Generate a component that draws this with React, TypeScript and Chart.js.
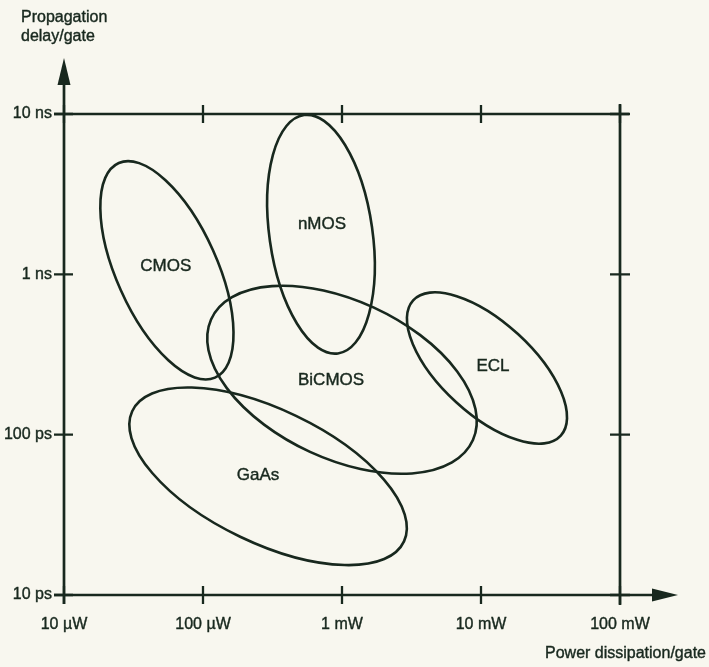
import { useEffect, useRef } from "react";
import { Chart, registerables } from "chart.js";

Chart.register(...registerables);

// Power dissipation per gate, in µW
const powerTicks = [10, 100, 1000, 10000, 100000];
const powerTickLabels = ["10 µW", "100 µW", "1 mW", "10 mW", "100 mW"];
// Propagation delay per gate, in ps
const delayTicks = [10, 100, 1000, 10000];
const delayTickLabels = ["10 ps", "100 ps", "1 ns", "10 ns"];

const xTitle = "Power dissipation/gate";
const yTitle = ["Propagation", "delay/gate"];

// Technology regions (ellipses in log–log space)
const technologies = ["CMOS", "nMOS", "BiCMOS", "ECL", "GaAs"];
const centerPower = [55, 706, 1000, 11040, 294];
const centerDelay = [1060, 1778, 220, 260.5, 55];
// end point of first half-axis
const axis1Power = [122, 935, 8750, 37500, 2793];
const axis1Delay = [227, 321, 92.5, 98.6, 21.6];
// end point of second half-axis
const axis2Power = [118, 1644, 1698, 18450, 467];
const axis2Delay = [1413, 1967, 620, 424, 131];
// label anchors
const labelPower = [54, 718, 834, 12190, 249];
const labelDelay = [1122, 2054, 217, 266, 55.5];

const INK = "#18281e";
const BG = "#f8f7ef";
const FONT = "'Liberation Sans', Arial, Helvetica, sans-serif";

const diagramPlugin = {
  id: "diagram",
  afterDraw(chart: any) {
    const { ctx, chartArea, scales } = chart;
    const xs = scales.x;
    const ys = scales.y;
    const L = chartArea.left;
    const R = chartArea.right;
    const T = chartArea.top;
    const B = chartArea.bottom;
    ctx.save();
    ctx.strokeStyle = INK;
    ctx.fillStyle = INK;
    ctx.lineCap = "butt";

    // ellipses
    ctx.lineWidth = 2.6;
    for (let i = 0; i < technologies.length; i++) {
      const cx = xs.getPixelForValue(centerPower[i]);
      const cy = ys.getPixelForValue(centerDelay[i]);
      const ux = xs.getPixelForValue(axis1Power[i]) - cx;
      const uy = ys.getPixelForValue(axis1Delay[i]) - cy;
      const vx = xs.getPixelForValue(axis2Power[i]) - cx;
      const vy = ys.getPixelForValue(axis2Delay[i]) - cy;
      ctx.save();
      ctx.beginPath();
      ctx.transform(ux, uy, vx, vy, cx, cy);
      ctx.arc(0, 0, 1, 0, Math.PI * 2);
      ctx.closePath();
      ctx.restore();
      ctx.stroke();
    }

    // labels
    ctx.font = `17px ${FONT}`;
    ctx.textAlign = "center";
    ctx.textBaseline = "middle";
    ctx.lineWidth = 0.4;
    for (let i = 0; i < technologies.length; i++) {
      const px = xs.getPixelForValue(labelPower[i]);
      const py = ys.getPixelForValue(labelDelay[i]);
      ctx.fillText(technologies[i], px, py);
      ctx.strokeText(technologies[i], px, py);
    }

    // axes and frame
    ctx.lineWidth = 2.7;
    ctx.beginPath();
    ctx.moveTo(L, 80);
    ctx.lineTo(L, B + 9);
    ctx.moveTo(L - 10, B);
    ctx.lineTo(655, B);
    ctx.moveTo(L - 10, T);
    ctx.lineTo(R + 9, T);
    ctx.moveTo(R, T - 10);
    ctx.lineTo(R, B + 10);
    ctx.stroke();

    ctx.lineWidth = 2.3;
    ctx.beginPath();
    powerTicks.forEach((v) => {
      const px = xs.getPixelForValue(v);
      ctx.moveTo(px, B - 9);
      ctx.lineTo(px, B + 9);
      ctx.moveTo(px, T - 9);
      ctx.lineTo(px, T + 9);
    });
    delayTicks.forEach((v) => {
      const py = ys.getPixelForValue(v);
      ctx.moveTo(L - 10, py);
      ctx.lineTo(L + 9, py);
      ctx.moveTo(R - 10, py);
      ctx.lineTo(R + 10, py);
    });
    ctx.stroke();

    // arrows
    ctx.beginPath();
    ctx.moveTo(L, 58);
    ctx.lineTo(L - 6.5, 85);
    ctx.lineTo(L + 6.5, 85);
    ctx.closePath();
    ctx.fill();
    ctx.beginPath();
    ctx.moveTo(678, B);
    ctx.lineTo(652, B - 6.5);
    ctx.lineTo(652, B + 6.5);
    ctx.closePath();
    ctx.fill();

    // axis titles
    ctx.font = `16px ${FONT}`;
    ctx.textAlign = "left";
    ctx.textBaseline = "middle";
    ctx.lineWidth = 0.4;
    ctx.fillText(yTitle[0], 21, 18);
    ctx.strokeText(yTitle[0], 21, 18);
    ctx.fillText(yTitle[1], 21, 37);
    ctx.strokeText(yTitle[1], 21, 37);
    ctx.textAlign = "right";
    ctx.fillText(xTitle, 706, 654);
    ctx.strokeText(xTitle, 706, 654);
    ctx.restore();
  },
};

export default function App() {
  const ref = useRef<HTMLCanvasElement | null>(null);
  useEffect(() => {
    if (!ref.current) return;
    const chart = new Chart(ref.current, {
      type: "scatter",
      data: {
        datasets: [
          {
            label: "regions",
            data: technologies.map((_, i) => ({ x: centerPower[i], y: centerDelay[i] })),
            pointRadius: 0,
            pointHoverRadius: 0,
          },
        ],
      },
      options: {
        responsive: false,
        animation: false,
        events: [],
        layout: { padding: { left: 0, top: 114, right: 89, bottom: 0 } },
        plugins: {
          legend: { display: false },
          tooltip: { enabled: false },
          title: { display: false },
        },
        scales: {
          x: {
            type: "logarithmic",
            position: "bottom",
            min: 10,
            max: 100000,
            afterBuildTicks: (s: any) => {
              s.ticks = powerTicks.map((v) => ({ value: v }));
            },
            afterFit: (s: any) => {
              s.height = 72;
            },
            grid: { display: false, drawTicks: false, tickLength: 0 },
            border: { display: false },
            ticks: {
              autoSkip: false,
              maxRotation: 0,
              minRotation: 0,
              padding: 20,
              color: INK,
              textStrokeColor: INK,
              textStrokeWidth: 0.4,
              font: { family: FONT, size: 16 },
              callback: (v: any) => powerTickLabels[powerTicks.indexOf(Number(v))] ?? "",
            },
          },
          y: {
            type: "logarithmic",
            position: "left",
            min: 10,
            max: 10000,
            afterBuildTicks: (s: any) => {
              s.ticks = delayTicks.map((v) => ({ value: v }));
            },
            afterFit: (s: any) => {
              s.width = 64;
            },
            grid: { display: false, drawTicks: false, tickLength: 0 },
            border: { display: false },
            ticks: {
              autoSkip: false,
              padding: 12,
              color: INK,
              textStrokeColor: INK,
              textStrokeWidth: 0.4,
              font: { family: FONT, size: 16 },
              callback: (v: any) => delayTickLabels[delayTicks.indexOf(Number(v))] ?? "",
            },
          },
        },
      },
      plugins: [diagramPlugin],
    });
    return () => chart.destroy();
  }, []);
  return (
    <div
      style={{
        position: "fixed",
        left: 0,
        top: 0,
        width: 709,
        height: 667,
        background: BG,
      }}
    >
      <canvas ref={ref} width={709} height={667} style={{ display: "block" }} />
    </div>
  );
}
